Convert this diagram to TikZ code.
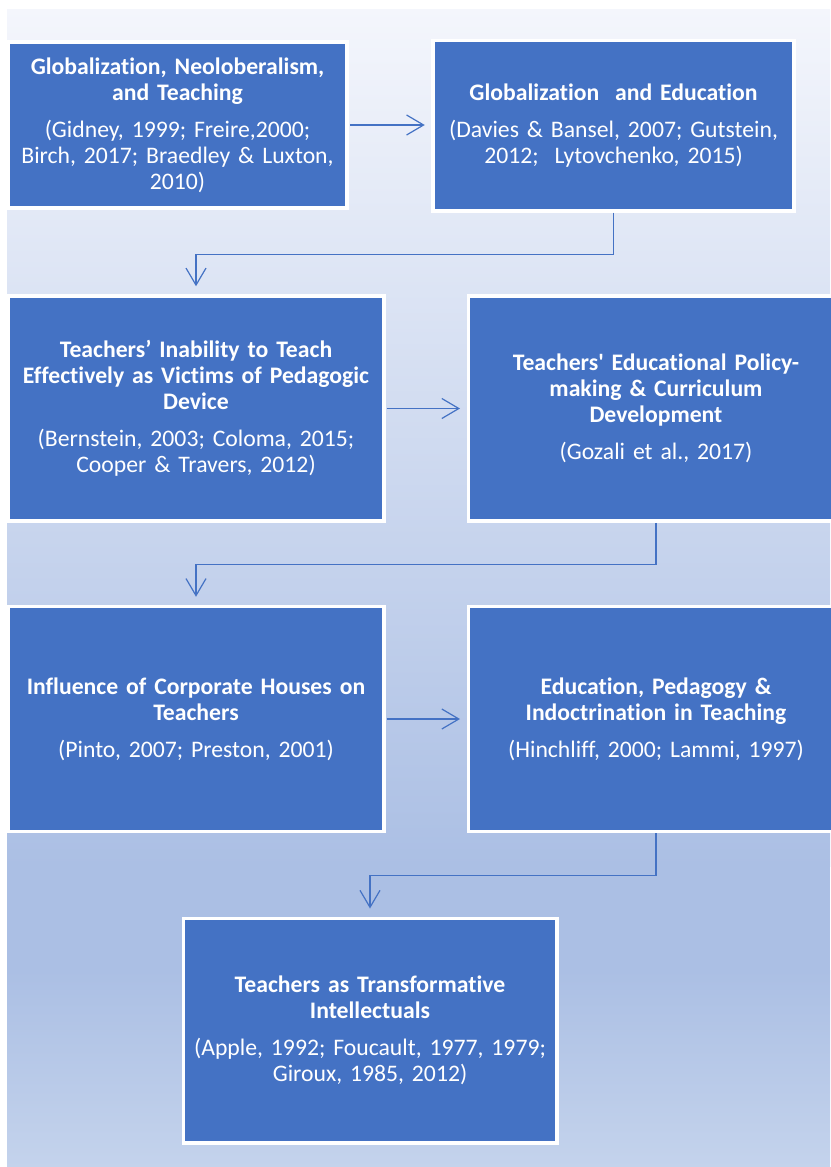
\documentclass[tikz,border=0pt]{standalone}
\usepackage{fontspec}
\setmainfont{Carlito}[Ligatures={TeXOff,NoCommon}]
\usetikzlibrary{arrows.meta}
\definecolor{boxblue}{HTML}{4472C4}
\definecolor{bgtop}{HTML}{F4F6FC}
\definecolor{bgmid}{HTML}{ABBFE4}
\definecolor{bgbot}{HTML}{C4D3EC}
\newcommand{\boxfont}{\fontsize{23.7}{26}\selectfont}
\newcommand{\boxtext}[2]{{\bfseries #1}\\[11pt]#2}

\begin{document}
\begin{tikzpicture}[x=1pt,y=1pt]
                    \tikzset{topic/.style={rectangle,fill=boxblue,draw=white,line width=3.5pt,text=white,align=center,inner sep=0,font=\boxfont,text width=330}}
                    \tikzset{wide/.style={topic,minimum width=375.5,minimum height=225,text width=365}}
                    \tikzset{link/.style={draw=boxblue,line width=1.2pt,-{Straight Barb[length=17pt,width=20pt]},shorten >=8pt}}
                    {
                        \useasboundingbox (0,0) rectangle (830,-1167);
                        % background
                        \fill[top color=bgtop,bottom color=bgmid] (7,-9) rectangle (830,-866);
                        \fill[bgmid] (7,-866) rectangle (830,-970);
                        \fill[top color=bgmid,bottom color=bgbot] (7,-970) rectangle (830,-1167);

                        \node[topic,minimum width=339,minimum height=166] (glob) at (177.5,-125) {\boxtext{Globalization, Neoloberalism,\\and Teaching}{(Gidney, 1999; Freire,2000;\\Birch, 2017; Braedley \& Luxton,\\2010)}};
                        \node[topic,minimum width=361,minimum height=170.5,text width=350] (edu) at (613.5,-125.5) {\boxtext{Globalization\ \ and Education}{(Davies \& Bansel, 2007; Gutstein,\\2012;\ \ Lytovchenko, 2015)}};
                        \node[wide] (victim) at (196,-408.5) {\boxtext{Teachers’ Inability to Teach\\Effectively as Victims of Pedagogic\\Device}{(Bernstein, 2003; Coloma, 2015;\\Cooper \& Travers, 2012)}};
                        \node[wide] (policy) at (656,-408.5) {\boxtext{Teachers' Educational Policy-\\making \& Curriculum\\Development}{(Gozali et al., 2017)}};
                        \node[wide] (corp) at (196,-719) {\boxtext{Influence of Corporate Houses on\\Teachers}{(Pinto, 2007; Preston, 2001)}};
                        \node[wide] (indoc) at (656,-719) {\boxtext{Education, Pedagogy \&\\Indoctrination in Teaching}{(Hinchliff, 2000; Lammi, 1997)}};
                        \node[topic,minimum width=373.5,minimum height=224.5,text width=365] (trans) at (370,-1030.5) {\boxtext{Teachers as Transformative\\Intellectuals}{(Apple, 1992; Foucault, 1977, 1979;\\Giroux, 1985, 2012)}};

                        \path[every edge/.style={link,shorten <=1pt,shorten >=6.5pt}]
                            (glob.east) edge (glob.east -| edu.west)
                            (victim.east) edge (victim.east -| policy.west)
                            (corp.east) edge (corp.east -| indoc.west);

                        \draw[link] (edu.south) -- ++(0,-42) -| (victim.north);
                        \draw[link] (policy.south) -- ++(0,-42) -| (corp.north);
                        \draw[link] (indoc.south) -- ++(0,-42) -| (trans.north);
                    }
\end{tikzpicture}
\end{document}
